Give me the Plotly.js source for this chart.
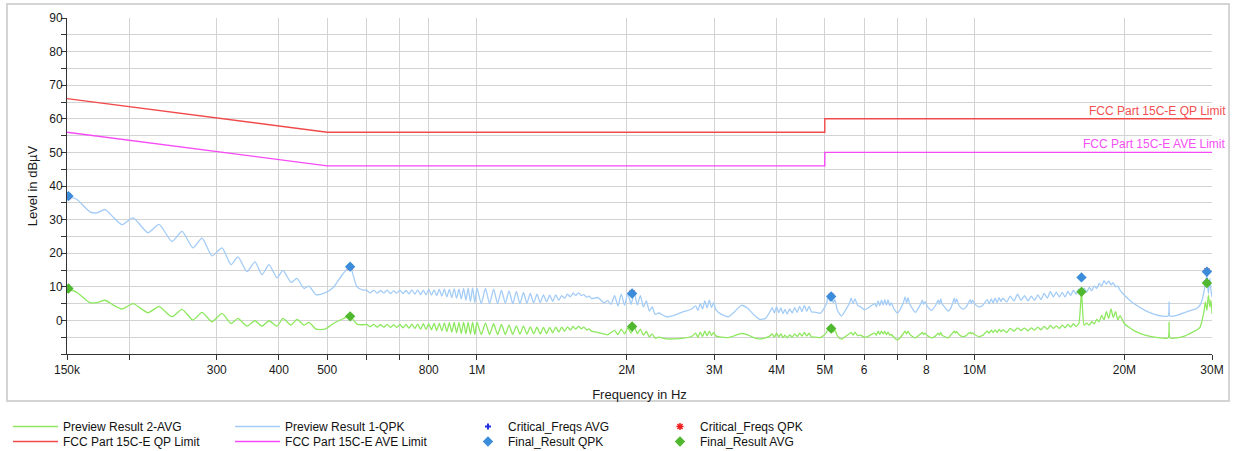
<!DOCTYPE html>
<html><head><meta charset="utf-8">
<script src="https://cdn.plot.ly/plotly-3.0.1.min.js"></script>
<style>html,body{margin:0;padding:0;background:#fff;}#chart{width:1235px;height:451px;}</style>
</head><body><div id="chart"></div>
<script>
// Frequencies in MHz, levels in dBµV
const previewFreq = [
 0.1500,0.1571,0.1668,0.1723,0.1789,0.1856,0.1935,0.2036,0.2182,0.2296,
 0.2438,0.2554,0.2687,0.2802,0.2934,0.3073,0.3204,0.3309,0.3450,0.3580,
 0.3698,0.3820,0.3964,0.4075,0.4229,0.4348,0.4491,0.4596,0.4748,0.4949,
 0.5136,0.5379,0.5557,0.5740,0.5901,
 0.60,0.61,0.62,0.63,0.64,0.65,0.66,0.67,0.68,0.69,
 0.70,0.71,0.72,0.73,0.74,0.75,0.76,0.77,0.78,0.79,
 0.80,0.81,0.82,0.83,0.84,0.85,0.86,0.87,0.88,0.89,
 0.90,0.91,0.92,0.93,0.94,0.95,0.96,0.97,0.98,0.99,
 1.00,1.02,1.04,1.06,1.08,1.10,1.12,1.14,1.16,1.18,
 1.20,1.22,1.24,1.26,1.28,1.30,1.32,1.34,1.36,1.38,
 1.40,1.42,1.44,1.46,1.48,1.50,1.52,1.54,1.56,1.58,
 1.60,1.62,1.64,1.66,1.68,1.70,
 1.75,1.80,1.83,1.86,1.89,1.92,1.95,1.98,2.01,2.04,
 2.07,2.10,2.13,2.16,2.19,2.22,2.25,2.28,2.32,2.40,
 2.50,2.60,2.70,2.75,2.78,2.81,2.84,2.87,2.90,2.93,
 2.96,2.99,3.02,3.10,3.20,3.30,3.40,3.50,3.60,3.70,
 3.80,3.88,3.92,3.96,4.00,4.04,4.08,4.12,4.16,4.20,
 4.25,4.30,4.35,4.40,4.45,4.50,4.55,4.60,4.65,4.70,
 4.80,4.90,4.98,5.04,5.08,5.12,5.16,5.20,5.24,5.30,
 5.40,5.50,5.60,5.65,5.70,5.75,5.82,5.90,6.00,6.10,
 6.20,6.30,6.35,6.40,6.45,6.50,6.55,6.60,6.65,6.70,
 6.75,6.80,6.90,7.00,7.10,7.20,7.25,7.30,7.35,7.40,
 7.50,7.60,7.70,7.80,7.85,7.90,7.95,8.05,8.20,8.35,
 8.45,8.50,8.55,8.60,8.70,8.85,8.95,9.05,9.10,9.15,
 9.20,9.30,9.45,9.60,9.70,9.80,9.85,9.90,10.0,10.2,
 10.4,10.6,10.7,10.8,10.9,11.0,11.1,11.2,11.3,11.4,
 11.6,11.8,12.0,12.2,12.4,12.6,12.8,13.0,13.2,13.4,
 13.6,13.8,14.0,14.2,14.4,14.6,14.8,15.0,15.2,15.4,
 15.6,15.8,16.0,16.2,16.4,16.6,16.8,17.0,17.2,17.4,
 17.6,17.8,18.0,18.2,18.4,18.6,18.8,19.0,19.2,19.4,
 19.6,20.0,20.5,21.0,22.0,23.0,24.0,24.5,24.6,24.7,
 25.5,26.5,27.0,27.5,28.0,28.4,28.7,28.9,29.1,29.3,
 29.5,29.7,29.85,30.0
];
const previewQpk = [
 37.0,36.0,32.3,32.0,33.0,30.8,28.5,30.5,26.1,28.6,
 23.5,26.5,21.6,24.5,19.2,21.6,16.6,18.9,14.5,17.4,
 13.6,16.6,12.7,14.9,11.3,12.5,9.5,10.2,7.7,8.2,
 9.7,13.9,15.9,10.0,9.0,
 9.0,8.2,9.0,8.1,8.9,8.2,9.0,8.0,8.8,8.1,
 9.0,8.0,8.9,7.9,9.1,7.8,9.1,7.7,9.0,7.6,
 9.2,7.5,9.1,7.4,9.2,7.2,9.3,7.0,9.2,6.8,
 9.4,6.6,9.3,6.4,9.5,6.0,9.6,5.6,9.7,5.3,
 9.6,5.0,9.5,5.0,9.3,5.0,9.0,5.1,8.8,5.0,
 8.6,5.0,8.3,5.1,8.0,5.2,7.8,5.3,7.6,5.5,
 7.5,5.7,7.6,6.0,7.4,6.6,7.8,7.0,8.1,7.4,
 8.2,7.4,7.7,6.9,7.2,6.5,
 6.8,5.2,5.9,4.8,7.4,4.3,7.8,4.5,8.1,4.8,
 8.2,4.6,7.4,4.0,5.8,2.8,4.0,1.8,2.2,1.1,
 1.6,2.6,3.4,4.3,3.0,5.0,3.4,5.8,3.7,6.0,
 3.8,5.3,3.2,1.8,1.1,2.7,4.5,3.6,1.7,0.3,
 0.6,2.6,3.8,2.2,4.0,2.3,3.7,2.0,3.3,1.9,
 3.4,2.2,3.8,2.4,4.2,2.6,4.5,2.7,4.2,2.6,
 2.4,2.1,3.5,5.0,7.2,5.6,7.4,5.2,6.2,3.0,
 1.3,3.0,5.0,6.6,5.0,6.4,4.5,4.0,3.2,3.6,
 4.4,5.0,4.0,5.8,4.4,6.0,4.6,6.2,4.5,6.1,
 4.4,5.2,3.2,2.2,3.5,5.5,7.0,5.2,6.8,5.0,
 3.5,2.4,3.5,5.0,6.0,4.8,5.6,4.0,3.0,4.5,
 6.0,4.8,6.4,5.0,4.0,2.8,3.5,5.5,6.6,5.2,
 6.4,4.5,3.4,3.8,5.0,6.2,5.0,6.0,5.0,4.0,
 4.6,6.2,5.0,6.4,5.2,6.6,5.3,6.8,5.6,6.6,
 5.5,7.2,5.8,7.8,6.0,7.4,5.8,7.2,6.0,7.6,
 6.2,8.0,6.6,8.6,7.0,8.4,7.0,8.3,7.0,8.6,
 7.4,9.0,7.8,9.4,8.2,9.6,8.4,9.8,8.8,10.3,
 9.5,11.0,10.3,11.8,10.8,11.7,10.6,11.2,10.0,10.2,
 9.0,7.5,6.0,4.8,3.0,1.8,1.2,1.3,5.5,1.3,
 1.5,2.4,2.8,3.2,3.6,4.6,6.5,8.5,11.0,13.8,
 8.0,12.5,9.0,7.0
];
const previewAvg = [
 9.5,8.3,5.3,5.3,6.0,4.6,3.4,5.0,2.3,4.1,
 1.1,3.3,0.1,2.4,-0.4,2.1,-0.9,0.6,-1.7,-0.1,
 -1.7,-0.1,-1.7,0.6,-1.4,0.3,-1.4,-0.6,-2.6,-2.6,
 -1.0,0.5,1.3,-1.1,-1.3,
 -1.2,-1.9,-1.2,-2.0,-1.3,-2.0,-1.2,-2.1,-1.3,-2.1,
 -1.2,-2.2,-1.2,-2.3,-1.1,-2.4,-1.1,-2.6,-1.0,-2.7,
 -1.0,-2.8,-0.9,-3.0,-0.9,-3.1,-0.8,-3.3,-0.7,-3.5,
 -0.6,-3.7,-0.6,-3.9,-0.5,-4.0,-0.5,-4.1,-0.5,-4.2,
 -0.6,-4.2,-0.8,-4.2,-1.0,-4.2,-1.2,-4.2,-1.4,-4.2,
 -1.6,-4.1,-1.7,-4.1,-1.9,-4.0,-2.0,-4.0,-2.1,-3.9,
 -2.1,-3.7,-2.0,-3.5,-2.0,-3.2,-1.9,-2.9,-1.8,-2.6,
 -1.7,-2.5,-2.0,-2.8,-2.5,-3.2,
 -3.6,-4.0,-4.3,-3.6,-3.0,-4.2,-2.6,-4.0,-2.2,-3.8,
 -2.0,-3.9,-2.6,-4.4,-3.3,-4.9,-4.0,-5.3,-5.0,-5.5,
 -5.5,-5.3,-4.8,-3.8,-5.0,-3.5,-4.8,-3.2,-4.6,-3.2,
 -4.5,-3.6,-4.6,-5.0,-5.1,-4.5,-3.9,-4.3,-5.1,-5.5,
 -5.2,-4.6,-4.0,-5.0,-3.8,-4.9,-4.0,-5.1,-4.4,-5.2,
 -4.3,-5.0,-4.0,-4.8,-3.8,-4.7,-3.6,-4.7,-3.8,-4.9,
 -5.0,-5.1,-4.4,-3.6,-2.2,-3.3,-2.0,-3.5,-2.8,-4.6,
 -5.6,-4.8,-4.0,-3.6,-4.4,-3.5,-4.5,-4.4,-5.0,-4.8,
 -4.2,-3.8,-4.4,-3.2,-4.2,-3.2,-4.0,-3.3,-4.2,-3.5,
 -4.4,-4.2,-5.2,-5.8,-5.0,-3.8,-3.2,-4.0,-3.2,-4.0,
 -4.8,-5.2,-4.6,-4.0,-3.6,-4.2,-3.8,-4.6,-5.2,-4.6,
 -3.8,-4.4,-3.6,-4.4,-4.8,-5.2,-4.4,-3.6,-3.2,-3.8,
 -3.3,-4.2,-4.8,-4.6,-4.0,-3.6,-4.0,-3.7,-4.2,-4.8,
 -4.4,-3.2,-3.8,-2.9,-3.6,-2.8,-3.6,-2.7,-3.4,-2.8,
 -3.6,-2.4,-3.2,-2.2,-3.0,-2.3,-3.1,-2.2,-2.9,-2.0,
 -2.8,-1.8,-2.6,-1.5,-2.4,-1.6,-2.4,-1.4,-2.2,-1.2,
 -2.0,-1.0,-1.8,-0.9,8.4,-1.4,-0.8,-1.4,-0.4,-1.0,
 0.3,-0.4,1.5,0.2,2.6,0.6,3.4,0.8,2.6,0.2,
 1.4,-1.0,-2.2,-3.2,-4.4,-5.0,-5.3,-5.2,-0.5,-5.2,
 -5.2,-4.6,-4.0,-3.4,-2.8,-2.0,0.5,2.5,5.5,3.0,
 7.5,4.0,6.0,2.0
];
const limitFreq = [0.15, 0.5, 5, 5, 30];
const qpLimit = [66, 56, 56, 60, 60];
const aveLimit = [56, 46, 46, 50, 50];
const finalFreq = [0.151, 0.556, 2.05, 5.15, 16.4, 29.3];
const finalQpk = [37.0, 16.0, 8.0, 7.1, 12.8, 14.5];
const finalAvg = [9.5, 1.2, -1.8, -2.4, 8.5, 11.1];
const criticalFreq = [0.151, 0.556, 2.05, 5.15, 29.3];
const criticalQpk = [36.9, 15.9, 8.1, 7.2, 14.7];
const criticalAvg = [9.4, 1.3, -1.9, -2.3, 11.6];
const xTickVals = [0.15,0.2,0.3,0.4,0.5,0.6,0.7,0.8,1,2,3,4,5,6,7,8,10,20,30];
const xTickText = ['150k','','300','400','500','','','800','1M','2M','3M','4M','5M','6','','8','10M','20M','30M'];
const yTickVals = [-10,-5,0,5,10,15,20,25,30,35,40,45,50,55,60,65,70,75,80,85,90];
const yTickText = ['','','0','','10','','20','','30','','40','','50','','60','','70','','80','','90'];

const FONT = 'Arial, "Liberation Sans", sans-serif';
const traces = [
  {x: previewFreq, y: previewAvg, type: 'scatter', mode: 'lines', name: 'Preview Result 2-AVG',
   line: {color: '#8ee85f', width: 1.3, shape: 'spline', smoothing: 0.6}, legend: 'legend'},
  {x: previewFreq, y: previewQpk, type: 'scatter', mode: 'lines', name: 'Preview Result 1-QPK',
   line: {color: '#a3ccf7', width: 1.3, shape: 'spline', smoothing: 0.6}, legend: 'legend3'},
  {x: limitFreq, y: qpLimit, type: 'scatter', mode: 'lines', name: 'FCC Part 15C-E QP Limit',
   line: {color: '#f24a4a', width: 1.4}, legend: 'legend2'},
  {x: limitFreq, y: aveLimit, type: 'scatter', mode: 'lines', name: 'FCC Part 15C-E AVE Limit',
   line: {color: '#f54af5', width: 1.4}, legend: 'legend4'},
  {x: criticalFreq, y: criticalAvg, type: 'scatter', mode: 'markers', name: 'Critical_Freqs AVG',
   marker: {symbol: 'cross', size: 5, color: '#1f2fe0'}, legend: 'legend5'},
  {x: criticalFreq, y: criticalQpk, type: 'scatter', mode: 'markers', name: 'Critical_Freqs QPK',
   marker: {symbol: 'asterisk-open', size: 6, color: '#ee2020', line: {color: '#ee2020', width: 1.5}}, legend: 'legend7'},
  {x: finalFreq, y: finalQpk, type: 'scatter', mode: 'markers', name: 'Final_Result QPK',
   marker: {symbol: 'diamond', size: 8, color: '#3b8ddb'}, legend: 'legend6'},
  {x: finalFreq, y: finalAvg, type: 'scatter', mode: 'markers', name: 'Final_Result AVG',
   marker: {symbol: 'diamond', size: 8, color: '#4fb82e'}, legend: 'legend8'}
];

function legendAt(xp, yp, iw) {
  const l = {xref: 'paper', yref: 'paper', x: xp, y: yp, xanchor: 'left', yanchor: 'top',
    orientation: 'v', bgcolor: 'rgba(0,0,0,0)', borderwidth: 0,
    font: {family: FONT, size: 12, color: '#111'}};
  if (iw) l.itemwidth = iw;
  return l;
}
const ROW1 = -0.1726, ROW2 = -0.2173;
const axisCommon = {
  tickmode: 'array', ticks: 'outside', ticklen: 5, tickcolor: '#333', tickwidth: 1,
  showline: true, linecolor: '#333', linewidth: 1, gridcolor: '#d3d3d3', gridwidth: 1,
  zeroline: false, tickfont: {family: FONT, size: 12, color: '#1a1a1a'}
};
const layout = {
  width: 1235, height: 451,
  margin: {l: 67, r: 23, t: 18, b: 97, autoexpand: false},
  paper_bgcolor: '#fff', plot_bgcolor: '#fff',
  font: {family: FONT, size: 12, color: '#1a1a1a'},
  showlegend: true,
  xaxis: Object.assign({}, axisCommon, {
    type: 'log', range: [Math.log10(0.15), Math.log10(30)],
    tickvals: xTickVals, ticktext: xTickText,
    title: {text: 'Frequency in Hz', font: {family: FONT, size: 13, color: '#1a1a1a'}, standoff: 13}
  }),
  yaxis: Object.assign({}, axisCommon, {
    range: [-10, 90], tickvals: yTickVals, ticktext: yTickText, ticklabelstandoff: -4,
    title: {text: 'Level in dBµV', font: {family: FONT, size: 13, color: '#1a1a1a'}, standoff: 8}
  }),
  legend: legendAt(-0.0515, ROW1, 45),
  legend2: legendAt(-0.0515, ROW2, 45),
  legend3: legendAt(0.1424, ROW1, 45),
  legend4: legendAt(0.1424, ROW2, 45),
  legend5: legendAt(0.3502, ROW1),
  legend6: legendAt(0.3502, ROW2),
  legend7: legendAt(0.5179, ROW1),
  legend8: legendAt(0.5179, ROW2),
  annotations: [
    {xref: 'paper', x: 1, xanchor: 'right', xshift: 16, yref: 'y', y: 60, yanchor: 'bottom', yshift: -1,
     text: 'FCC Part 15C-E QP Limit', showarrow: false, font: {family: FONT, size: 12, color: '#f25050'}},
    {xref: 'paper', x: 1, xanchor: 'right', xshift: 15, yref: 'y', y: 50, yanchor: 'bottom', yshift: -1,
     text: 'FCC Part 15C-E AVE Limit', showarrow: false, font: {family: FONT, size: 12, color: '#f550f5'}}
  ],
  shapes: [
    {type: 'rect', xref: 'paper', yref: 'paper', x0: -0.0524, x1: 1.0149, y0: -0.1399, y1: 1.0417,
     line: {color: '#d4d4d4', width: 2}, layer: 'below'}
  ]
};
Plotly.newPlot('chart', traces, layout, {displayModeBar: false, staticPlot: true});
</script>
</body></html>
